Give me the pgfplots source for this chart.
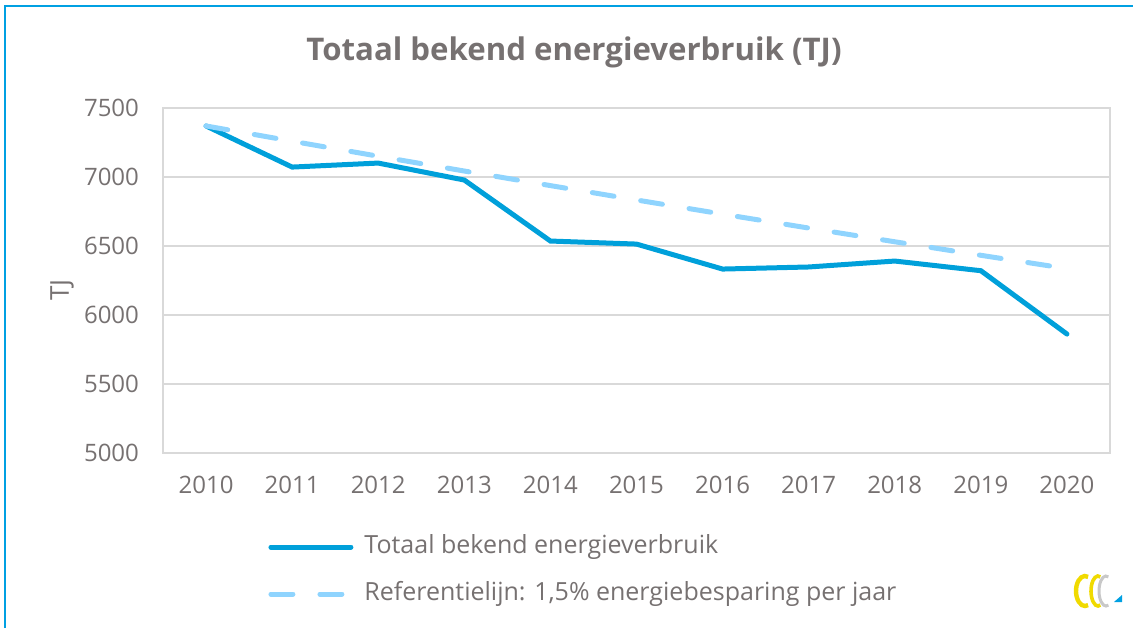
\documentclass[border=0pt]{standalone}
\usepackage{fontspec}
\setmainfont{Open Sans}
\usepackage{pgfplots}
\pgfplotsset{compat=1.18}
\definecolor{txtgray}{RGB}{118,113,113}
\definecolor{gridgray}{RGB}{217,217,217}
\definecolor{mainblue}{RGB}{0,160,218}
\definecolor{refblue}{RGB}{143,212,254}
\definecolor{frameblue}{RGB}{0,160,226}
\definecolor{logoyellow}{RGB}{240,218,0}
\definecolor{logogray}{RGB}{200,200,200}
\begin{document}
\begin{tikzpicture}
% canvas: 566.5pt x 314pt (1 px of the reference = 0.5pt)
\useasboundingbox (0pt,0pt) rectangle (566.5pt,314pt);
\draw[frameblue, line width=1pt] (2.5pt,0pt) -- (2.5pt,310.75pt) -- (566.5pt,310.75pt);

\begin{axis}[
  at={(81.5pt,87.5pt)}, anchor=south west,
  scale only axis, width=473.5pt, height=172.5pt,
  xmin=2009.5, xmax=2020.5, ymin=5000, ymax=7500,
  xtick={2010,...,2020}, ytick={5000,5500,...,7500},
  /pgf/number format/1000 sep={},
  /pgf/number format/assume math mode=true,
  major tick length=0pt,
  axis line style={gridgray, line width=1pt},
  ymajorgrids, grid style={gridgray, line width=1pt},
  tick label style={font=\fontsize{12}{14}\selectfont, text=txtgray},
  yticklabel style={xshift=-8.5pt},
  xticklabel style={yshift=-8pt},
  ylabel={TJ},
  ylabel style={font=\fontsize{13}{15}\selectfont, text=txtgray,
    at={(-0.1067,0.4725)}, anchor=center},
  title={Totaal bekend energieverbruik (TJ)},
  title style={font=\bfseries\fontsize{15.6}{18}\selectfont, text=txtgray,
    at={(0.434,1.127)}, anchor=center, yshift=0pt},
  legend cell align=left,
  legend style={at={(0.1109,-0.3406)}, anchor=west, draw=none, fill=none,
    inner sep=0pt, row sep=11pt, column sep=5.5pt,
    font=\fontsize{12.5}{15}\selectfont, text=txtgray,
    nodes={inner sep=0pt, text height=9.5pt, text depth=3pt}},
]
\addplot[mainblue, line width=2.5pt, line cap=round,
  legend image code/.code={\draw[mainblue, line width=2.5pt, line cap=round] (1.25pt,0pt) -- (41.25pt,0pt);}]
  coordinates {
  (2010,7370) (2011,7072) (2012,7101) (2013,6978) (2014,6536) (2015,6514)
  (2016,6333) (2017,6348) (2018,6391) (2019,6321) (2020,5862)};
\addlegendentry{Totaal bekend energieverbruik}
\addplot[refblue, line width=2.5pt, line cap=round, dash pattern=on 11pt off 13.5pt,
  legend image code/.code={\draw[refblue, line width=2.5pt, line cap=round, dash pattern=on 11pt off 13.5pt] (1.25pt,0pt) -- (41.25pt,0pt);}]
  coordinates {
  (2010,7370) (2011,7259.5) (2012,7150.6) (2013,7043.3) (2014,6937.7) (2015,6833.6)
  (2016,6731.1) (2017,6630.1) (2018,6530.7) (2019,6432.7) (2020,6336.2)};
\addlegendentry{Referentielijn: 1,5\% energiebesparing per jaar}
\end{axis}

% small logo, bottom right
\draw[logoyellow, line width=2.2pt] ([shift={(70:4.5pt and 7.5pt)}]542.5pt,18.5pt)
  arc[start angle=70, end angle=290, x radius=4.5pt, y radius=7.5pt];
\draw[logoyellow, line width=1.8pt] ([shift={(70:3.5pt and 7.5pt)}]549pt,18.5pt)
  arc[start angle=70, end angle=290, x radius=3.5pt, y radius=7.5pt];
\draw[logogray, line width=1.5pt] ([shift={(70:3.5pt and 7.5pt)}]553pt,18.5pt)
  arc[start angle=70, end angle=290, x radius=3.5pt, y radius=7.5pt];
\fill[frameblue] (557pt,13pt) -- (561pt,13pt) -- (561pt,16.5pt) -- cycle;
\end{tikzpicture}
\end{document}
